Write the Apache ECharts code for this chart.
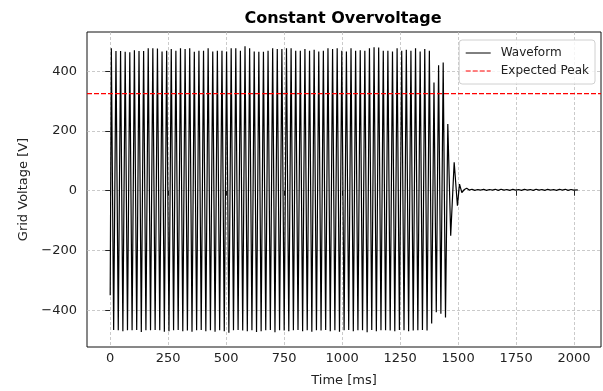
<!DOCTYPE html>
<html>
<head>
<meta charset="utf-8">
<script src="https://cdn.jsdelivr.net/npm/echarts@6/dist/echarts.min.js"></script>
<style>
  html, body { margin: 0; padding: 0; background: #fff; }
  #main { width: 603px; height: 391px; }
</style>
</head>
<body>
<div id="main"></div>
<script>
// start of the trace
var startPoint = [0, -350];
// time of the first peak and the cycle length, ms
var firstPeak = 5;
var period = 19.87;

// positive peak of each cycle (V)
var peakV = [
    477, 467, 467, 465, 463, 470, 467, 467, 477, 477,
    476, 466, 468, 474, 468, 477, 474, 477, 465, 468,
    468, 477, 466, 468, 468, 466, 477, 477, 468, 483,
    477, 466, 465, 465, 468, 477, 474, 474, 477, 477,
    468, 468, 474, 468, 472, 466, 468, 477, 474, 477,
    468, 466, 477, 468, 470, 468, 477, 480, 479, 468,
    468, 466, 477, 468, 472, 468, 477, 466, 474, 468,
    362, 420, 429, 223
];
// negative peak after each positive one (V)
var troughV = [
    -466, -467, -470, -467, -467, -466, -473, -467, -467, -466,
    -467, -472, -470, -467, -466, -470, -468, -472, -467, -466,
    -470, -467, -472, -467, -470, -475, -467, -466, -468, -470,
    -467, -473, -470, -467, -466, -474, -467, -468, -470, -467,
    -466, -470, -467, -472, -467, -468, -466, -470, -467, -472,
    -467, -466, -470, -467, -467, -474, -466, -470, -467, -467,
    -468, -470, -466, -467, -470, -468, -467, -466, -468,
    -444, -407, -412, -424
];
// ring-down after disconnection, then the flat residue
var tailT = [1468, 1483, 1497, 1506, 1516, 1527, 1537,
    1548, 1560, 1572, 1585, 1597, 1610, 1622, 1635, 1648, 1660,
    1673, 1685, 1698, 1710, 1723, 1736, 1748, 1761, 1773, 1786,
    1798, 1811, 1824, 1836, 1849, 1861, 1874, 1886, 1899, 1912,
    1924, 1937, 1949, 1962, 1974, 1987, 1999, 2016];
var tailV = [-151, 95, -50, 22, -6, 4, 8,
    2, 5, 1, 4, 2, 5, 1, 4, 2, 5,
    1, 5, 2, 4, 1, 5, 2, 4, 1, 5,
    2, 4, 1, 5, 2, 4, 1, 5, 2, 4,
    1, 5, 2, 5, 1, 4, 2, 3];

var expectedPeak = 325;

var xRange = [-100, 2116];
var yRange = [-523, 531];
var xTicks = [0, 250, 500, 750, 1000, 1250, 1500, 1750, 2000];
var yTicks = [-400, -200, 0, 200, 400];

var wave = [startPoint];
for (var k = 0; k < peakV.length; k++) {
    wave.push([firstPeak + k * period, peakV[k]]);
    if (k < troughV.length) {
        wave.push([firstPeak + (k + 0.5) * period, troughV[k]]);
    }
}
for (var i = 0; i < Math.min(tailT.length, tailV.length); i++) {
    wave.push([tailT[i], tailV[i]]);
}
// horizontal reference line across the whole axis
var peakLine = [[xRange[0], expectedPeak], [xRange[1], expectedPeak]];

var font = 'DejaVu Sans';
var gridLine = { show: true, lineStyle: { color: '#bdbdbd', type: [3, 2], width: 0.8 } };

var myChart = echarts.init(document.getElementById('main'), null, { renderer: 'canvas' });

var option = {
    animation: false,
    backgroundColor: '#fff',
    color: ['#000000', '#ff0000'],
    title: {
        text: 'Constant Overvoltage',
        left: 343,
        top: 11,
        padding: 0,
        textAlign: 'center',
        textStyle: { fontFamily: font, fontSize: 16, fontWeight: 'bold', color: '#000' }
    },
    legend: {
        orient: 'vertical',
        right: 8,
        top: 40,
        padding: [7, 6, 7, 6],
        itemGap: 6,
        itemWidth: 25,
        itemHeight: 12,
        itemStyle: { opacity: 0 },
        lineStyle: { width: 1 },
        backgroundColor: 'rgba(255,255,255,0.8)',
        borderColor: '#d0d0d0',
        borderWidth: 1,
        borderRadius: 3,
        textStyle: { fontFamily: font, fontSize: 12, color: '#222', padding: [0, 0, 0, 5] },
        data: ['Waveform', 'Expected Peak']
    },
    grid: {
        left: 87,
        right: 2,
        top: 32,
        bottom: 44,
        show: true,
        borderColor: '#111',
        borderWidth: 1,
        outerBoundsMode: 'none'
    },
    xAxis: {
        type: 'value',
        min: xRange[0],
        max: xRange[1],
        name: 'Time [ms]',
        nameLocation: 'middle',
        nameGap: 27,
        nameTextStyle: { fontFamily: font, fontSize: 13, color: '#222' },
        axisLine: { show: false },
        axisTick: { show: true, length: 5, customValues: xTicks, lineStyle: { color: '#222' } },
        axisLabel: {
            customValues: xTicks,
            margin: 5,
            fontFamily: font,
            fontSize: 13,
            color: '#222',
            formatter: function (v) { return String(v); }
        },
        splitLine: gridLine
    },
    yAxis: {
        type: 'value',
        min: yRange[0],
        max: yRange[1],
        name: 'Grid Voltage [V]',
        nameLocation: 'middle',
        nameGap: 57,
        nameTextStyle: { fontFamily: font, fontSize: 13, color: '#222' },
        axisLine: { show: false },
        axisTick: { show: true, length: 5, customValues: yTicks, lineStyle: { color: '#222' } },
        axisLabel: {
            customValues: yTicks,
            margin: 10,
            fontFamily: font,
            fontSize: 13,
            color: '#222',
            formatter: function (v) { return String(v).replace('-', '\u2212'); }
        },
        splitLine: gridLine
    },
    series: [
        {
            name: 'Waveform',
            type: 'line',
            data: wave,
            symbol: 'none',
            color: '#000000',
            lineStyle: { color: '#000000', width: 1.2 },
            z: 3
        },
        {
            name: 'Expected Peak',
            type: 'line',
            data: peakLine,
            symbol: 'none',
            color: '#ff0000',
            lineStyle: { color: '#ff0000', width: 1.3, type: [5, 2] },
            z: 4
        }
    ]
};

myChart.setOption(option);
</script>
</body>
</html>
